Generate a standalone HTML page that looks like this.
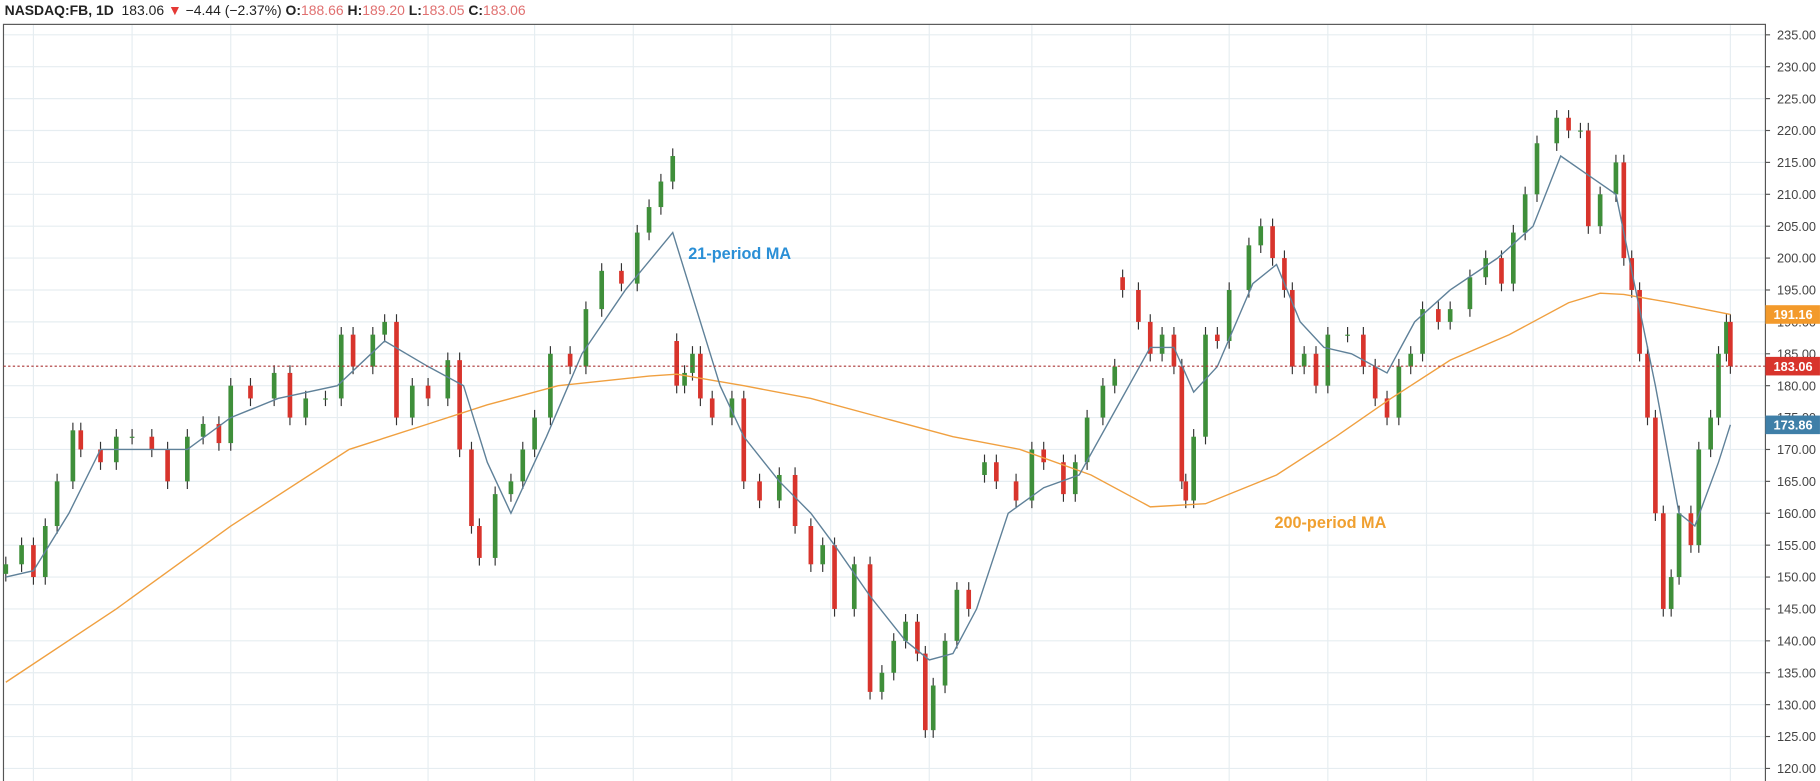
<!DOCTYPE html>
<html><head><meta charset="utf-8">
<style>
html,body{margin:0;padding:0;background:#fff;overflow:hidden;width:1820px;height:781px}
#wrap{position:absolute;left:0;top:0;width:1568px;height:673px;transform:scale(1.1607);transform-origin:0 0;font-family:"Liberation Sans",sans-serif}
#hdr{position:absolute;left:4px;top:2px;font-size:12px;color:#222;white-space:nowrap}
#hdr b{font-weight:bold}
.pk{color:#e07070}
</style></head><body>
<div id="wrap">
<div id="hdr"><b>NASDAQ:FB, 1D</b>&nbsp; 183.06 <span style="color:#e53935">▼</span> −4.44 (−2.37%) <b>O:</b><span class="pk">188.66</span> <b>H:</b><span class="pk">189.20</span> <b>L:</b><span class="pk">183.05</span> <b>C:</b><span class="pk">183.06</span></div>
<svg id="svg" width="1568" height="673" style="position:absolute;left:0;top:0"></svg>
</div>
<script>
const days=[0,4,7,10,13,17,19,24,28,32,37,41,46,50,54,57,62,68,72,76,81,85,88,93,96,99,103,107,112,115,118,120,124,128,131,134,138,143,147,151,156,160,163,166,169,170,172,174,176,179,184,187,191,196,200,204,207,210,215,219,222,225,228,231,233,235,238,241,244,248,251,256,260,263,268,271,274,278,281,283,287,290,293,296,298,299,301,304,307,310,315,318,321,324,326,329,332,335,340,344,347,350,353,356,359,363,366,371,375,379,382,385,388,393,396,399,401,404,408,410,412,414,416,418,420,422,424,427,429,432,434,436,437];
const closes=[152,155,150,158,165,173,170,168,172,172,170,165,172,174,171,180,178,182,175,178,178,188,183,188,190,175,180,178,184,170,158,153,163,165,170,175,185,183,192,198,196,204,208,212,216,180,182,185,178,175,178,165,162,166,158,152,155,145,152,132,135,140,143,138,126,133,140,148,145,168,165,162,170,168,163,168,175,180,183,195,190,185,188,183,165,162,172,188,187,195,202,205,200,195,183,185,180,188,188,183,178,175,183,185,192,190,192,197,200,196,204,210,218,222,220,220,205,210,215,200,195,185,175,160,145,150,160,155,170,175,185,190,183.06];
const gapDays=[170,248,283];
const gapOpens=[187,166,197];
const ma21Days=[0,7,16,24,34,46,57,69,84,96,107,116,122,128,137,146,157,169,175,181,187,196,204,210,219,228,234,240,246,254,263,272,281,290,296,301,307,316,322,328,334,341,350,357,366,378,387,394,401,408,413,418,424,428,434,437];
const ma21=[150,151,160,170,170,170,175,178,180,187,183,180,168,160,172,185,195,204,192,180,172,165,160,155,147,140,137,138,145,160,164,166,176,186,186,179,183,196,199,190,186,185,182,190,195,200,205,216,213,210,195,180,160,158,168,173.86];
const ma200Days=[0,28,57,87,107,122,140,163,170,187,204,222,240,257,275,290,304,322,337,351,366,381,396,404,410,422,437];
const ma200=[133.5,145,158,170,174,177,180,181.5,181.8,180,178,175,172,170,166,161,161.5,166,172,178,184,188,193,194.5,194.3,193,191.16];
const priceTicks=[235,230,225,220,215,210,205,200,195,190,185,180,175,170,165,160,155,150,145,140,135,130,125,120];
const gridDays=[7,32,57,84,107,134,159,184,209,234,260,285,310,335,360,387,412,437];

const svg=document.getElementById('svg');
const NS='http://www.w3.org/2000/svg';
const X=d=>5+d*3.4;
const Y=p=>30+(235-p)*5.496;
const R=1521, TOP=21, BOT=673;
function mk(tag,attrs,parent){const e=document.createElementNS(NS,tag);for(const k in attrs)e.setAttribute(k,attrs[k]);(parent||svg).appendChild(e);return e;}

const grid=mk('g',{});


priceTicks.forEach(p=>{const l=mk('line',{x1:3,x2:R,y1:Y(p),y2:Y(p),stroke:'#e6edf1','stroke-width':1},grid);

});
gridDays.forEach(d=>{const l=mk('line',{x1:X(d),x2:X(d),y1:TOP,y2:BOT,stroke:'#e6edf1','stroke-width':1},grid);

});
const frame=mk('rect',{x:3,y:TOP,width:R-3,height:BOT-TOP+5,fill:'none',stroke:'#555','stroke-width':1});



const ax=mk('g',{});


priceTicks.forEach(p=>{
 const t=mk('line',{x1:R,x2:R+4,y1:Y(p),y2:Y(p),stroke:'#555'},ax);
 
 
 const tx=mk('text',{x:R+10,y:Y(p)+4,'font-size':11,fill:'#444','font-family':'Liberation Sans, sans-serif'},ax);
 tx.textContent=p.toFixed(2);
 
 
});

const cg=mk('g',{});


for(let i=0;i<days.length;i++){
 const c=closes[i];
 const gi=gapDays.indexOf(days[i]);
 const o=gi>=0?gapOpens[gi]:(i>0?closes[i-1]:c-1.5);
 const hi=Math.max(o,c)+1.2, lo=Math.min(o,c)-1.2;
 const up=c>=o, col=up?'#3f8f3a':'#d8342c';
 const x=X(days[i]);
 const w=4;
 const wk=mk('line',{x1:x,x2:x,y1:Y(hi),y2:Y(lo),stroke:'#333','stroke-width':1},cg);
 
 
 const b=mk('rect',{x:x-w/2,y:Y(Math.max(o,c)),width:w,height:Math.max(1,Y(Math.min(o,c))-Y(Math.max(o,c))),fill:col},cg);
 
 
}

function line(ds,vs,col,name){
 const p=mk('path',{d:ds.map((d,i)=>(i?'L':'M')+X(d).toFixed(1)+' '+Y(vs[i]).toFixed(1)).join(''),fill:'none',stroke:col,'stroke-width':1.2});
 
 
}
line(ma200Days,ma200,'#f0a040','ma200-line');
line(ma21Days,ma21,'#5f8199','ma21-line');

const lp=mk('line',{x1:3,x2:R,y1:Y(183.06),y2:Y(183.06),stroke:'#a33','stroke-width':1,'stroke-dasharray':'2,2'});



function tag(v,col,name){
 const g=mk('g',{});
 
 
 mk('rect',{x:R,y:Y(v)-8,width:47,height:16,fill:col},g);
 const t=mk('text',{x:R+7,y:Y(v)+4,'font-size':11,'font-weight':'bold',fill:'#fff','font-family':'Liberation Sans, sans-serif'},g);
 t.textContent=v.toFixed(2);
}
tag(191.16,'#f39a2b','ma200-price-tag');
tag(183.06,'#d8342c','last-price-tag');
tag(173.86,'#3f7fa8','ma21-price-tag');

const l1=mk('text',{x:593,y:223,'font-size':14,'font-weight':'bold',fill:'#2a8fd6','font-family':'Liberation Sans, sans-serif'});
l1.textContent='21-period MA';


const l2=mk('text',{x:1098,y:455,'font-size':14,'font-weight':'bold',fill:'#f0a030','font-family':'Liberation Sans, sans-serif'});
l2.textContent='200-period MA';


</script>
</body></html>
